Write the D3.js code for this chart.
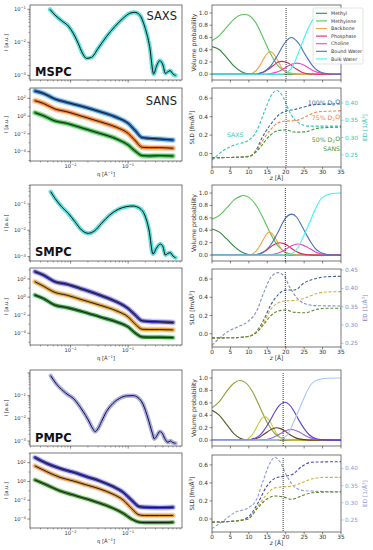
<!DOCTYPE html>
<html lang="en">
<head>
<meta charset="UTF-8">
<title>SAXS / SANS fits and volume profiles</title>
<script src="https://d3js.org/d3.v7.min.js"></script>
<style>
  body { margin: 0; background: #fff; }
  svg { display: block; font-family: 'DejaVu Sans', sans-serif; }
</style>
</head>
<body>
<svg width="373" height="550"></svg>
<script>
// ---------------- data ----------------
const lipids = ["MSPC", "SMPC", "PMPC"];
const components = ["Methyl", "Methylene", "Backbone", "Phosphate", "Choline", "Bound Water", "Bulk Water"];
const contrasts = ["100%", "75%", "50%"];
const qMajor = [0.01, 0.1];
const saxsMajor = [1e-1, 1e-2, 1e-3];
const sansMajor = [1e2, 1e0, 1e-2, 1e-4];
const zTicks = [0, 5, 10, 15, 20, 25, 30, 35];
const volTicks = [0, 0.2, 0.4, 0.6, 0.8, 1.0];
const sldTicks = [0, 0.2, 0.4, 0.6];
const edTicks = [[0.25, 0.30, 0.35, 0.40], [0.25, 0.30, 0.35, 0.40, 0.45], [0.25, 0.30, 0.35, 0.40]];
const interfaceZ = [20.1, 19.9, 19.3];

// SAXS curves, log10 q and log10 I
const mspcSaxsLogQ = [-2.36,-2.272,-2.157,-2.041,-1.954,-1.868,-1.793,-1.723,-1.637,-1.521,-1.377,-1.232,-1.088,-0.972,-0.886,-0.799,-0.712,-0.626,-0.556,-0.51,-0.452,-0.395,-0.354,-0.308,-0.268,-0.221,-0.175];
const mspcSaxsLogI = [-1.0,-1.172,-1.344,-1.505,-1.727,-2.03,-2.333,-2.485,-2.455,-2.18,-1.828,-1.525,-1.273,-1.121,-1.091,-1.172,-1.525,-2.131,-2.96,-2.737,-2.556,-2.687,-2.94,-2.889,-2.859,-2.96,-3.0];
const smpcSaxsLogQ = [-2.347,-2.272,-2.157,-2.041,-1.925,-1.81,-1.694,-1.579,-1.463,-1.319,-1.174,-1.03,-0.915,-0.799,-0.712,-0.637,-0.568,-0.51,-0.441,-0.395,-0.354,-0.308,-0.268,-0.221,-0.175];
const smpcSaxsLogI = [-0.531,-0.784,-1.101,-1.355,-1.672,-1.989,-2.115,-2.014,-1.735,-1.418,-1.203,-1.101,-1.076,-1.165,-1.418,-1.989,-2.901,-2.686,-2.521,-2.622,-2.939,-2.876,-2.85,-2.977,-3.04];
const pmpcSaxsLogQ = [-2.347,-2.243,-2.128,-2.041,-1.954,-1.868,-1.781,-1.694,-1.619,-1.573,-1.527,-1.463,-1.377,-1.261,-1.146,-1.03,-0.915,-0.828,-0.741,-0.655,-0.579,-0.545,-0.499,-0.452,-0.406,-0.366,-0.308,-0.268,-0.221,-0.175];
const pmpcSaxsLogI = [-0.119,-0.499,-0.793,-0.969,-1.116,-1.38,-1.704,-2.07,-2.438,-2.585,-2.467,-2.144,-1.704,-1.337,-1.116,-1.013,-0.999,-1.087,-1.38,-1.997,-2.658,-2.907,-2.76,-2.585,-2.658,-2.879,-3.055,-2.996,-3.07,-3.1];

// SANS curves (100%, 75%, 50% D2O), log10 q and log10 I
const mspcSansLogQ = [-2.619,-2.474,-2.272,-2.07,-1.781,-1.492,-1.203,-1.0,-0.886,-0.753,-0.626,-0.452,-0.221];
const mspcSans100 = [2.82,2.56,1.92,1.55,1.06,0.50,-0.14,-0.81,-1.56,-2.42,-2.50,-2.57,-2.69];
const mspcSans75 = [1.73,1.43,0.80,0.50,-0.06,-0.63,-1.26,-1.94,-2.69,-3.51,-3.55,-3.55,-3.62];
const mspcSans50 = [0.39,0.05,-0.55,-0.81,-1.37,-1.94,-2.57,-3.25,-3.88,-4.45,-4.48,-4.45,-4.48];
const smpcSansLogQ = [-2.619,-2.474,-2.272,-2.07,-1.781,-1.492,-1.203,-1.0,-0.886,-0.753,-0.626,-0.452,-0.221];
const smpcSans100 = [2.81,2.44,1.70,1.44,0.85,0.22,-0.52,-1.26,-1.93,-2.63,-2.70,-2.74,-2.81];
const smpcSans75 = [1.70,1.22,0.52,0.22,-0.33,-0.89,-1.52,-2.19,-2.93,-3.56,-3.59,-3.59,-3.63];
const smpcSans50 = [0.22,-0.15,-0.89,-1.15,-1.63,-2.19,-2.74,-3.30,-3.93,-4.41,-4.44,-4.44,-4.48];
const pmpcSansLogQ = [-2.619,-2.417,-2.185,-1.954,-1.723,-1.492,-1.261,-1.088,-0.943,-0.81,-0.712,-0.452,-0.221];
const pmpcSans100 = [2.54,1.93,1.40,0.98,0.51,0.05,-0.55,-1.15,-1.97,-2.68,-2.75,-2.79,-2.75];
const pmpcSans75 = [1.65,1.05,0.44,0.05,-0.37,-0.80,-1.36,-1.97,-2.86,-3.56,-3.63,-3.63,-3.63];
const pmpcSans50 = [0.16,-0.37,-1.01,-1.44,-1.86,-2.32,-2.86,-3.39,-3.99,-4.34,-4.38,-4.38,-4.34];

// volume probability [z, p], in the order of `components`
const mspcVolume = [
  [[0,.45],[2,.4],[4,.27],[6,.13],[8,.04],[10,.005],[12,0],[35,0]],
  [[0,.55],[2,.63],[4,.77],[6,.9],[8,.97],[9,.975],[10,.96],[12,.83],[14,.58],[16,.32],[18,.13],[20,.04],[22,.01],[24,0],[35,0]],
  [[0,0],[10,0],[12,.06],[13,.14],[14,.25],[15,.34],[15.8,.37],[16.6,.34],[17.6,.25],[19,.1],[20,.04],[21,.01],[23,0],[35,0]],
  [[0,0],[12,0],[13,.014],[14,.033],[15,.066],[16,.11],[17,.16],[18,.2],[18.9,.21],[20,.2],[21,.17],[22,.12],[23,.08],[24,.045],[25,.02],[27,.002],[29,0],[35,0]],
  [[0,0],[15,0],[16,.012],[17,.025],[18,.045],[19,.074],[20,.11],[21,.145],[22,.17],[23,.18],[24,.17],[25,.145],[26,.11],[27,.074],[28,.045],[29,.025],[30,.012],[32,.002],[35,0]],
  [[0,0],[12,0],[13,.02],[14,.04],[15,.08],[16,.14],[17,.23],[18,.33],[19,.44],[20,.53],[21.6,.6],[23,.54],[24,.46],[25,.35],[26,.25],[27,.16],[28,.09],[29,.047],[30,.023],[32,.004],[35,0]],
  [[0,0],[19,0],[20,.02],[21,.06],[22,.14],[23,.28],[24.4,.5],[25.5,.67],[26.5,.8],[27.5,.9],[28.5,.95],[30,.985],[32,.998],[35,1]]
];
const smpcVolume = [
  [[0,.42],[2,.37],[4,.26],[6,.14],[8,.05],[10,.01],[12,0],[35,0]],
  [[0,.58],[2,.64],[4,.76],[6,.89],[8,.955],[8.5,.96],[10,.93],[12,.8],[14,.58],[16,.33],[18,.14],[20,.045],[22,.01],[24,0],[35,0]],
  [[0,0],[10,0],[12,.07],[13,.15],[14,.26],[15,.35],[15.6,.37],[16.4,.34],[17.4,.25],[18.8,.1],[19.8,.04],[21,.01],[23,0],[35,0]],
  [[0,0],[11,0],[12,.01],[13,.025],[14,.05],[15,.09],[16,.135],[17,.175],[18.3,.2],[19.5,.185],[20.5,.155],[21.5,.11],[22.5,.07],[23.5,.04],[24.5,.02],[26.5,.003],[28,0],[35,0]],
  [[0,0],[15,0],[16,.008],[17,.018],[18,.035],[19,.06],[20,.095],[21,.13],[22,.16],[23.4,.18],[24.5,.165],[25.5,.14],[26.5,.105],[27.5,.07],[28.5,.04],[29.5,.022],[30.5,.01],[32.5,.002],[35,0]],
  [[0,0],[12,0],[13,.02],[14,.05],[15,.1],[16,.17],[17,.27],[18,.38],[19,.5],[20,.6],[21.6,.66],[23,.61],[24,.51],[25,.4],[26,.29],[27,.19],[28,.11],[29,.06],[30,.03],[32,.005],[35,0]],
  [[0,0],[20.5,0],[21.5,.02],[22.5,.06],[23.5,.14],[24.8,.3],[26.3,.5],[27.5,.67],[28.5,.8],[29.5,.9],[30.5,.95],[32,.985],[33.5,.998],[35,1]]
];
const pmpcVolume = [
  [[0,.48],[2,.4],[4,.25],[6,.1],[7.5,.035],[9,.005],[10,0],[35,0]],
  [[0,.52],[2,.62],[4,.79],[6,.92],[7.5,.96],[9,.93],[11,.78],[13,.53],[15,.28],[17,.11],[19,.03],[21,.005],[23,0],[35,0]],
  [[0,0],[9,0],[10.5,.06],[11.5,.14],[12.5,.25],[13.5,.35],[14.3,.38],[15.1,.35],[16.1,.26],[17.5,.11],[18.5,.045],[19.5,.012],[21.5,0],[35,0]],
  [[0,0],[10,0],[11,.01],[12,.025],[13,.05],[14,.09],[15,.13],[16,.17],[17.4,.2],[18.6,.185],[19.6,.155],[20.6,.11],[21.6,.07],[22.6,.04],[23.6,.02],[25.6,.003],[27,0],[35,0]],
  [[0,0],[13,0],[14,.007],[15,.015],[16,.03],[17,.055],[18,.085],[19,.12],[20,.15],[21.5,.17],[22.7,.155],[23.7,.13],[24.7,.095],[25.7,.062],[26.7,.036],[27.7,.019],[28.7,.009],[30.5,.002],[35,0]],
  [[0,0],[10,0],[11,.02],[12,.04],[13,.08],[14,.15],[15,.24],[16,.34],[17,.45],[18,.54],[19.8,.61],[21.3,.55],[22.3,.46],[23.3,.35],[24.3,.25],[25.3,.16],[26.3,.09],[27.3,.047],[28.3,.022],[30.5,.003],[35,0]],
  [[0,0],[18,0],[19,.02],[20,.06],[21,.14],[22.2,.3],[23.7,.5],[24.9,.67],[25.9,.8],[26.9,.9],[27.9,.95],[29.5,.985],[31.5,.998],[35,1]]
];

// SLD [z, fm/Å³] for 100/75/50 % D2O, then ED [z, 1/Å³]
const mspcSld = [
  [[0,-.044],[5,-.042],[9,-.035],[10.7,-.02],[12,.04],[13.4,.158],[15.7,.305],[18,.415],[20,.46],[22.5,.478],[25.2,.507],[28.8,.533],[35,.537]],
  [[0,-.044],[5,-.042],[9,-.035],[10.7,-.02],[12,.03],[13.4,.12],[15.7,.25],[18,.335],[20,.353],[22.5,.355],[25.2,.397],[28.8,.452],[35,.463]],
  [[0,-.044],[5,-.042],[9,-.035],[10.7,-.02],[12,.02],[13.4,.085],[15.7,.195],[18,.25],[20,.257],[22.5,.232],[25.2,.235],[28.8,.276],[35,.287]]
];
const mspcEd = [[0,.235],[3.4,.265],[6.2,.279],[9.8,.291],[12.1,.319],[14.3,.377],[16.1,.422],[17.5,.436],[19.3,.417],[21.1,.373],[23.4,.343],[26.1,.333],[35,.333]];
const smpcSld = [
  [[0,-.045],[5,-.044],[9.7,-.03],[12,.02],[14,.15],[16,.32],[18,.43],[20,.48],[22.4,.48],[25.1,.56],[28.7,.61],[31,.625],[35,.63]],
  [[0,-.045],[5,-.044],[9.7,-.03],[12,.02],[14,.12],[16,.27],[18,.34],[20,.36],[22.4,.365],[25.1,.39],[28.7,.445],[31,.458],[35,.462]],
  [[0,-.045],[5,-.044],[9.7,-.03],[12,.01],[14,.1],[16,.2],[18,.25],[20,.26],[22.4,.235],[25.1,.23],[28.7,.27],[31,.28],[35,.28]]
];
const smpcEd = [[0,.245],[2.5,.268],[4.3,.282],[7,.295],[9.7,.309],[12,.336],[14.3,.395],[16.1,.432],[17.9,.443],[19.7,.432],[21,.405],[22.8,.377],[25.1,.359],[27.8,.353],[35,.352]];
const pmpcSld = [
  [[0,-.036],[4,-.03],[7,-.02],[9.8,.02],[12.5,.18],[14.8,.36],[17,.45],[18.9,.47],[21.6,.49],[24.3,.58],[27,.63],[35,.636]],
  [[0,-.036],[4,-.03],[7,-.02],[9.8,0],[12.5,.145],[14.8,.27],[17,.345],[19.3,.356],[21.6,.364],[24.3,.4],[27,.444],[30.6,.462],[35,.462]],
  [[0,-.036],[4,-.03],[7,-.02],[9.8,0],[12.5,.127],[14.8,.218],[17,.255],[19.3,.244],[21.6,.218],[24.3,.255],[27,.29],[30,.298],[35,.3]]
];
const pmpcEd = [[0,.225],[3.4,.25],[6.2,.272],[9.8,.285],[12.1,.31],[13.9,.365],[15.7,.415],[17,.432],[18.4,.42],[20.2,.38],[22.5,.345],[25.2,.335],[35,.332]];

// ---------------- layout & styles ----------------
const layout = [
  { saxs: [5, 80],    sans: [88, 161],  vol: [5, 80],    sld: [88, 167],  saxsLog: [-3.14, -0.87], sansLog: [-5.05, 3.16], ed: [0.215, 0.443], nameY: 76 },
  { saxs: [185, 261], sans: [268, 345], vol: [185, 261], sld: [269, 347], saxsLog: [-3.167, -0.278], sansLog: [-5.3, 3.22], ed: [0.24, 0.453], nameY: 256 },
  { saxs: [370, 446], sans: [453, 528], vol: [370, 446], sld: [455, 532], saxsLog: [-3.22, 0.13], sansLog: [-4.96, 3.03], ed: [0.215, 0.439], nameY: 442 }
];
const volColors = [
  ["#2b8c3b", "#58c458", "#f0a64a", "#e0285a", "#fb40cc", "#4a6fbe", "#3ff5f0"],
  ["#2b8c3b", "#58c458", "#f0a64a", "#e0285a", "#fb40cc", "#4a6fbe", "#3ff5f0"],
  ["#525e25", "#8aa236", "#c6c845", "#6e3a24", "#9a66d8", "#5c40cf", "#a9c6f2"]
];
const sldColors = [
  ["#2f6ea6", "#f08040", "#3a9a3a", "#27c9bb"],
  ["#3e5f93", "#d0b040", "#5f8a35", "#7d8ec2"],
  ["#4a4ab0", "#cbb540", "#5c7f30", "#8c9ad6"]
];
const saxsColors = ["#3fd9d2", "#3fd9d2", "#9c9ee6"];
const sansColors = [["#2f72b8", "#f07f2e", "#35a845"], ["#4a4ab8", "#d9a030", "#3a8a35"], ["#4848c0", "#d89a40", "#4c8a30"]];
const sansHalo = [["#9fd0f0", "#f8c090", "#9ee09e"], ["#c9b8f0", "#f0d0b0", "#b8f0d8"], ["#c8c0f0", "#f5d0c8", "#c8f0d0"]];

const saxsData = [[mspcSaxsLogQ, mspcSaxsLogI], [smpcSaxsLogQ, smpcSaxsLogI], [pmpcSaxsLogQ, pmpcSaxsLogI]];
const sansData = [[mspcSansLogQ, mspcSans100, mspcSans75, mspcSans50], [smpcSansLogQ, smpcSans100, smpcSans75, smpcSans50], [pmpcSansLogQ, pmpcSans100, pmpcSans75, pmpcSans50]];
const volData = [mspcVolume, smpcVolume, pmpcVolume];
const sldData = [mspcSld, smpcSld, pmpcSld];
const edData = [mspcEd, smpcEd, pmpcEd];

const svg = d3.select("svg");
const L = { x0: 30, x1: 182 }, R = { x0: 212, x1: 341 };
const qScale = d3.scaleLog().domain([0.00197, 0.863]).range([L.x0, L.x1]);
const zScale = d3.scaleLinear().domain([0, 35]).range([R.x0, R.x1]);
const INK = "#333";

const expStr = v => { const e = Math.round(Math.log10(v)); return (e < 0 ? "\u2212" : "") + Math.abs(e); };
function pow10(sel, v) {
  sel.text("10");
  sel.append("tspan").attr("dy", "-0.45em").attr("font-size", "0.72em").text(expStr(v));
}
let clipN = 0;
function clipRect(x0, y0, x1, y1) {
  const id = "clip" + (clipN++);
  svg.append("clipPath").attr("id", id).append("rect")
    .attr("x", x0).attr("y", y0).attr("width", x1 - x0).attr("height", y1 - y0);
  return `url(#${id})`;
}
function frame(x0, y0, x1, y1) {
  svg.append("rect").attr("x", x0).attr("y", y0).attr("width", x1 - x0).attr("height", y1 - y0)
    .attr("fill", "none").attr("stroke", "#3c3c3c").attr("stroke-width", 0.7);
}
function tick(x1, y1, x2, y2, w, color) {
  svg.append("line").attr("x1", x1).attr("y1", y1).attr("x2", x2).attr("y2", y2)
    .attr("stroke", color || INK).attr("stroke-width", w);
}
function logMinor(lo, hi) {
  const out = [];
  for (let k = Math.floor(lo); k <= Math.ceil(hi); k++)
    for (let m = 1; m < 10; m++) {
      const v = m * Math.pow(10, k), l = Math.log10(v);
      if (l >= lo && l <= hi) out.push({ v, major: m === 1 });
    }
  return out;
}
function qTicks(y1, labelY) {
  qScale.ticks().forEach(v => {
    const major = Math.abs(Math.log10(v) - Math.round(Math.log10(v))) < 1e-6;
    tick(qScale(v), y1, qScale(v), y1 + (major ? 2.6 : 1.5), major ? 0.6 : 0.45);
  });
  if (labelY) qMajor.forEach(v => {
    const t = svg.append("text").attr("x", qScale(v)).attr("y", labelY).attr("text-anchor", "middle")
      .attr("font-size", 5.2).attr("fill", INK);
    pow10(t, v);
  });
}
function qLabel(y) {
  const t = svg.append("text").attr("x", (L.x0 + L.x1) / 2).attr("y", y).attr("text-anchor", "middle")
    .attr("font-size", 5.2).attr("fill", INK).text("q [\u00c5");
  t.append("tspan").attr("dy", "-0.45em").attr("font-size", "0.72em").text("\u22121");
  t.append("tspan").attr("dy", "0.45em").text("]");
}
function iLabel(y0, y1) {
  svg.append("text").attr("transform", `translate(8,${(y0 + y1) / 2}) rotate(-90)`)
    .attr("text-anchor", "middle").attr("font-size", 5.2).attr("fill", INK).text("I [a.u.]");
}
function zAxis(y1, labels) {
  zTicks.forEach(v => {
    tick(zScale(v), y1, zScale(v), y1 + 2.4, 0.6);
    if (labels) svg.append("text").attr("x", zScale(v)).attr("y", y1 + 7.2).attr("text-anchor", "middle")
      .attr("font-size", 5.8).attr("fill", INK).text(v);
  });
  if (labels) {
    const t = svg.append("text").attr("x", (R.x0 + R.x1) / 2).attr("y", y1 + 13.2).attr("text-anchor", "middle")
      .attr("font-size", 5.8).attr("fill", INK);
    t.append("tspan").attr("font-style", "italic").text("z");
    t.append("tspan").text(" [\u00c5]");
  }
}

// ---------------- draw ----------------
layout.forEach((lay, i) => {
  // ---- SAXS ----
  const [a0, a1] = lay.saxs;
  const ySaxs = d3.scaleLog().domain([Math.pow(10, lay.saxsLog[0]), Math.pow(10, lay.saxsLog[1])]).range([a1, a0]);
  const saxsPts = d3.zip(saxsData[i][0], saxsData[i][1]);
  const saxsLine = d3.line().x(d => qScale(Math.pow(10, d[0]))).y(d => ySaxs(Math.pow(10, d[1]))).curve(d3.curveMonotoneX);
  const gA = svg.append("g").attr("clip-path", clipRect(L.x0, a0, L.x1, a1));
  gA.append("path").attr("d", saxsLine(saxsPts)).attr("fill", "none").attr("stroke", saxsColors[i])
    .attr("stroke-width", 4.2).attr("stroke-linecap", "round").attr("stroke-linejoin", "round").attr("opacity", 0.85);
  gA.append("path").attr("d", saxsLine(saxsPts)).attr("fill", "none").attr("stroke", "#111").attr("stroke-width", 1);
  frame(L.x0, a0, L.x1, a1);
  logMinor(lay.saxsLog[0], lay.saxsLog[1]).forEach(t => {
    const y = ySaxs(t.v);
    tick(L.x0, y, L.x0 - (t.major ? 2.6 : 1.5), y, t.major ? 0.6 : 0.45);
  });
  saxsMajor.forEach(v => {
    const t = svg.append("text").attr("x", L.x0 - 4).attr("y", ySaxs(v) + 1.8).attr("text-anchor", "end")
      .attr("font-size", 5.2).attr("fill", INK);
    pow10(t, v);
  });
  qTicks(a1, null);
  iLabel(a0, a1);
  svg.append("text").attr("x", 35).attr("y", lay.nameY).attr("font-size", 11.5).attr("font-weight", "bold")
    .attr("fill", "#111").text(lipids[i]);
  if (i === 0) svg.append("text").attr("x", 177).attr("y", 19.5).attr("text-anchor", "end")
    .attr("font-size", 11.5).attr("fill", "#222").text("SAXS");

  // ---- SANS ----
  const [b0, b1] = lay.sans;
  const ySans = d3.scaleLog().domain([Math.pow(10, lay.sansLog[0]), Math.pow(10, lay.sansLog[1])]).range([b1, b0]);
  const gB = svg.append("g").attr("clip-path", clipRect(L.x0, b0, L.x1, b1));
  const sansLine = d3.line().x(d => qScale(Math.pow(10, d[0]))).y(d => ySans(Math.pow(10, d[1]))).curve(d3.curveMonotoneX);
  [1, 2, 3].forEach(k => {
    const pts = d3.zip(sansData[i][0], sansData[i][k]);
    gB.append("path").attr("d", sansLine(pts)).attr("fill", "none").attr("stroke", sansHalo[i][k - 1])
      .attr("stroke-width", 6).attr("stroke-linecap", "round").attr("opacity", 0.7);
    gB.append("path").attr("d", sansLine(pts)).attr("fill", "none").attr("stroke", sansColors[i][k - 1])
      .attr("stroke-width", 3.4).attr("stroke-linecap", "round");
    gB.append("path").attr("d", sansLine(pts)).attr("fill", "none").attr("stroke", "#111").attr("stroke-width", 0.9);
  });
  frame(L.x0, b0, L.x1, b1);
  for (let k = Math.ceil(lay.sansLog[0]); k <= Math.floor(lay.sansLog[1]); k++) {
    const y = ySans(Math.pow(10, k)), major = k % 2 === 0;
    tick(L.x0, y, L.x0 - (major ? 2.6 : 1.5), y, major ? 0.6 : 0.45);
  }
  sansMajor.forEach(v => {
    const t = svg.append("text").attr("x", L.x0 - 4).attr("y", ySans(v) + 1.8).attr("text-anchor", "end")
      .attr("font-size", 5.2).attr("fill", INK);
    pow10(t, v);
  });
  qTicks(b1, b1 + 7);
  qLabel(b1 + 14.5);
  iLabel(b0, b1);
  if (i === 0) svg.append("text").attr("x", 177).attr("y", 104.5).attr("text-anchor", "end")
    .attr("font-size", 11.5).attr("fill", "#222").text("SANS");

  // ---- volume probability ----
  const [c0, c1] = lay.vol;
  const yVol = d3.scaleLinear().domain([-0.095, 1.13]).range([c1, c0]);
  const volLine = d3.line().x(d => zScale(d[0])).y(d => yVol(d[1])).curve(d3.curveMonotoneX);
  const gC = svg.append("g").attr("clip-path", clipRect(R.x0, c0, R.x1, c1));
  volData[i].forEach((curve, k) => {
    gC.append("path").attr("d", volLine(curve)).attr("fill", "none")
      .attr("stroke", volColors[i][k]).attr("stroke-width", 1.1);
  });
  gC.append("line").attr("x1", zScale(interfaceZ[i])).attr("x2", zScale(interfaceZ[i]))
    .attr("y1", c0 + 3).attr("y2", c1).attr("stroke", "#222").attr("stroke-width", 0.9).attr("stroke-dasharray", "1,1");
  frame(R.x0, c0, R.x1, c1);
  volTicks.forEach(v => {
    tick(R.x0, yVol(v), R.x0 - 2.4, yVol(v), 0.6);
    svg.append("text").attr("x", R.x0 - 4).attr("y", yVol(v) + 2).attr("text-anchor", "end")
      .attr("font-size", 5.8).attr("fill", INK).text(v.toFixed(1));
  });
  zAxis(c1, false);
  svg.append("text").attr("transform", `translate(195.5,${(c0 + c1) / 2}) rotate(-90)`)
    .attr("text-anchor", "middle").attr("font-size", 6.2).attr("fill", INK).text("Volume probability");

  if (i === 0) {
    const lg = svg.append("g").attr("transform", "translate(313,8)");
    lg.append("rect").attr("width", 50).attr("height", 56).attr("rx", 1.5)
      .attr("fill", "#fff").attr("fill-opacity", 0.85).attr("stroke", "#d0d0d0").attr("stroke-width", 0.6);
    components.forEach((name, k) => {
      const y = 5.3 + k * 7.6;
      lg.append("line").attr("x1", 3).attr("x2", 14).attr("y1", y).attr("y2", y)
        .attr("stroke", volColors[0][k]).attr("stroke-width", 1.1);
      lg.append("text").attr("x", 18).attr("y", y + 1.7).attr("font-size", 4.8).attr("fill", "#333").text(name);
    });
  }

  // ---- SLD / ED ----
  const [d0, d1] = lay.sld;
  const ySld = d3.scaleLinear().domain([-0.145, 0.71]).range([d1, d0]);
  const yEd = d3.scaleLinear().domain(lay.ed).range([d1, d0]);
  const sldLine = d3.line().x(d => zScale(d[0])).y(d => ySld(d[1])).curve(d3.curveMonotoneX);
  const edLine = d3.line().x(d => zScale(d[0])).y(d => yEd(d[1])).curve(d3.curveMonotoneX);
  const gD = svg.append("g").attr("clip-path", clipRect(R.x0, d0, R.x1, d1));
  gD.append("path").attr("d", edLine(edData[i])).attr("fill", "none")
    .attr("stroke", sldColors[i][3]).attr("stroke-width", 1.1).attr("stroke-dasharray", "3,1.8");
  sldData[i].forEach((curve, k) => {
    gD.append("path").attr("d", sldLine(curve)).attr("fill", "none")
      .attr("stroke", sldColors[i][k]).attr("stroke-width", 1.1).attr("stroke-dasharray", "3,1.8");
  });
  gD.append("line").attr("x1", zScale(interfaceZ[i])).attr("x2", zScale(interfaceZ[i]))
    .attr("y1", d0 + 3).attr("y2", d1).attr("stroke", "#222").attr("stroke-width", 0.9).attr("stroke-dasharray", "1,1");
  frame(R.x0, d0, R.x1, d1);
  sldTicks.forEach(v => {
    tick(R.x0, ySld(v), R.x0 - 2.4, ySld(v), 0.6);
    svg.append("text").attr("x", R.x0 - 4).attr("y", ySld(v) + 2).attr("text-anchor", "end")
      .attr("font-size", 5.8).attr("fill", INK).text(v.toFixed(1));
  });
  edTicks[i].forEach(v => {
    tick(R.x1, yEd(v), R.x1 + 2.4, yEd(v), 0.6, sldColors[i][3]);
    svg.append("text").attr("x", R.x1 + 4).attr("y", yEd(v) + 2).attr("font-size", 5.8)
      .attr("fill", sldColors[i][3]).text(v.toFixed(2));
  });
  zAxis(d1, true);
  const sl = svg.append("text").attr("transform", `translate(193.5,${(d0 + d1) / 2}) rotate(-90)`)
    .attr("text-anchor", "middle").attr("font-size", 5.8).attr("fill", INK).text("SLD [fm/\u00c5");
  sl.append("tspan").attr("dy", "-0.45em").attr("font-size", "0.72em").text("3");
  sl.append("tspan").attr("dy", "0.45em").text("]");
  const el = svg.append("text").attr("transform", `translate(366.5,${(d0 + d1) / 2}) rotate(-90)`)
    .attr("text-anchor", "middle").attr("font-size", 5.8).attr("fill", sldColors[i][3]).text("ED [1/\u00c5");
  el.append("tspan").attr("dy", "-0.45em").attr("font-size", "0.72em").text("3");
  el.append("tspan").attr("dy", "0.45em").text("]");

  if (i === 0) {
    const tags = [[104.5, 0, true], [119.5, 1, true], [142, 2, true]];
    tags.forEach(([y, k]) => {
      const t = svg.append("text").attr("x", 340).attr("y", y).attr("text-anchor", "end")
        .attr("font-size", 6.2).attr("fill", sldColors[0][k]).text(contrasts[k] + " D");
      t.append("tspan").attr("dy", "0.3em").attr("font-size", "0.72em").text("2");
      t.append("tspan").attr("dy", "-0.3em").text("O");
    });
    svg.append("text").attr("x", 340).attr("y", 150.5).attr("text-anchor", "end")
      .attr("font-size", 6.2).attr("fill", sldColors[0][2]).text("SANS");
    svg.append("text").attr("x", 227).attr("y", 137).attr("font-size", 6.2)
      .attr("fill", sldColors[0][3]).text("SAXS");
  }
});
</script>
</body>
</html>
